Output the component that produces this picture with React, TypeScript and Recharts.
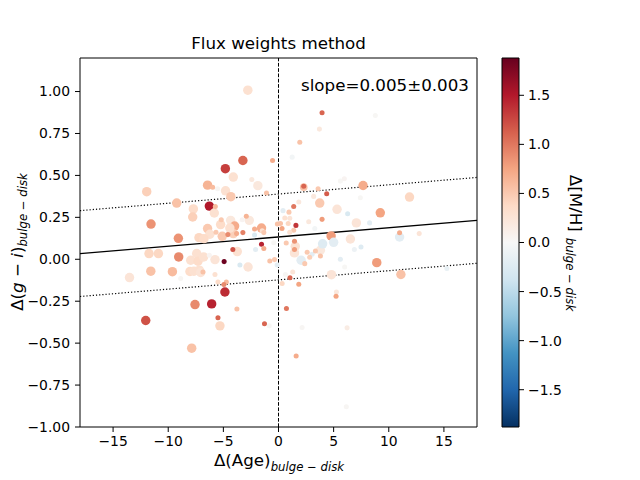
import {
  ComposedChart,
  ReferenceArea,
  ReferenceLine,
  Scatter,
  ScatterChart,
  XAxis,
  YAxis,
  ZAxis,
} from "recharts";

// Δ(Age) bulge − disk
const ageDiff = [
  -2.78, -0.54, -3.23, -4.82, -4.1, -2.42, -1.87, -1.09, -6.43, -5.97,
  -5.52, -4.8, -4.32, -11.95, -9.23, -6.27, -5.73, -7.72, -5.82, -7.78,
  -11.56, -5.19, -4.34, -3.98, -5.25, -2.92, -2.65, -3.29, -1.54, -1.48,
  -2.17, -2.17, -3.23, -6.43, -9.08, -6.22, -5.67, -5.1, -4.1, -4.59,
  -3.8, -1.33, -4.14, -3.74, -1.54, -1.33, -2.08, -11.74, -10.89, -9.05,
  -7.96, -7.42, -7.3, -5.76, -6.27, -4.93, -3.5, -2.76, -0.79, -0.12,
  -11.58, -9.62, -8.03, -7.18, -6.85, -13.51, -8.87, -5.76, -5.49, -4.73,
  -4.95, -4.86, -6.06, -7.57, -12.04, -3.77, -5.49, -5.31, -7.87, -1.27,
  -0.84, -0.43, -6.79, -7.67, -7.06, -4.41, -7.21, -6.76, -0.1,
  3.95, 8.78, 3.71, 1.93, 1.24, 5.61, 5.97, 7.67, 2.29, 2.29,
  3.59, 4.37, 3.19, 7.42, 3.74, 5.31, 11.88, 9.23, 6.27, 7.06,
  8.26, 1.38, 1.84, 0.41, 0.95, 1.58, 0.57, 1.02, 3.95, 2.74,
  3.29, 0.18, 0.32, 0.88, 1.38, 1.02, 4.77, 6.52, 10.98, 12.76,
  10.98, 0.7, 1.45, 1.45, 1.52, 1.45, 2.6, 3.05, 3.35, 3.8,
  3.8, 4.0, 5.0, 6.88, 7.48, 2.05, 2.38, 5.61, 6.0, 8.91,
  11.1, 15.27, 4.8, 1.04, 0.33, 1.84, -0.36, 0.63, 1.29, 5.25,
  5.22, 0.72, 2.14, 6.22, 1.6, 6.15, 2.83,
];

// Δ(g − i) bulge − disk
const colourDiff = [
  1.008, 0.589, 0.589, 0.54, 0.49, 0.476, 0.439, 0.395, 0.442, 0.429,
  0.421, 0.408, 0.373, 0.403, 0.335, 0.317, 0.314, 0.3, 0.276, 0.252,
  0.21, 0.236, 0.232, 0.198, 0.207, 0.256, 0.232, 0.236, 0.186, 0.17,
  0.18, 0.145, 0.159, 0.183, 0.125, 0.149, 0.161, 0.137, 0.153, 0.147,
  0.153, 0.159, 0.058, 0.046, 0.089, 0.064, 0.058, 0.034, 0.034, 0.014,
  -0.006, 0.034, -0.012, -0.002, 0.024, -0.014, -0.034, -0.046, -0.01, -0.034,
  -0.071, -0.074, -0.073, -0.065, -0.076, -0.109, -0.115, -0.091, -0.135, -0.135,
  -0.151, -0.195, -0.266, -0.27, -0.365, -0.296, -0.349, -0.397, -0.53, -0.385,
  -0.397, 0.099, 0.014, -0.071, -0.079, 0.186, 0.129, 0.123, 0.21,
  0.873, 0.857, 0.776, 0.698, 0.609, 0.466, 0.48, 0.44, 0.435, 0.43,
  0.421, 0.391, 0.375, 0.367, 0.335, 0.298, 0.371, 0.277, 0.272, 0.217,
  0.217, 0.315, 0.341, 0.29, 0.281, 0.202, 0.246, 0.244, 0.238, 0.224,
  0.183, 0.213, 0.183, 0.213, 0.173, 0.161, 0.139, 0.121, 0.158, 0.153,
  0.133, 0.097, 0.107, 0.058, 0.077, 0.038, 0.042, 0.03, 0.049, 0.054,
  0.02, 0.092, 0.101, 0.058, 0.073, -0.006, -0.026, 0.0, -0.046, -0.02,
  -0.091, -0.055, -0.092, -0.11, -0.145, -0.149, -0.002, -0.091, -0.076, -0.195,
  -0.22, -0.293, -0.407, -0.409, -0.577, -0.879, 0.012,
];

// Δ[M/H] bulge − disk (colour)
const metalDiff = [
  0.3, 0.7, 1.1, 1.3, 0.3, 0.2, 0.2, 0.55, 0.65, 0.6,
  0.03, 0.3, 0.5, 0.45, 0.55, 1.5, 0.6, 0.35, 0.3, 0.45,
  0.85, 0.5, 0.2, 0.7, 0.35, 0.65, 0.2, 0.05, 0.7, 0.3,
  0.7, -0.3, 0.95, 0.5, 0.85, 0.3, 0.5, 0.5, 0.45, 0.9,
  0.7, 0.5, 1.2, 0.3, 1.45, 0.7, -0.2, 0.4, 0.4, 0.9,
  0.3, 0.3, 0.35, 0.25, 0.05, 1.85, -0.3, 0.25, 0.55, -0.2,
  0.55, 0.6, 0.35, 0.3, 0.55, 0.25, 0.03, 0.3, 0.35, 0.6,
  0.9, 1.4, 1.45, 0.9, 1.2, 0.55, 1.1, 0.4, 0.55, 1.1,
  0.02, 0.02, 0.3, 0.3, 0.25, 0.3, 0.4, 0.35, 0.55,
  1.1, 0.02, 0.2, 0.55, -0.05, 0.02, 0.05, 0.7, 1.1, 0.55,
  0.5, 1.15, 0.2, 0.02, 0.5, 0.25, 0.4, 0.75, -0.3, 0.25,
  -0.2, 1.0, 0.2, -0.2, 0.5, 1.35, 0.3, 0.25, 0.8, 0.2,
  -0.05, 0.55, 0.75, 0.4, 0.5, 0.3, 0.8, 0.25, 0.7, 0.25,
  -0.2, 0.5, 0.85, 0.8, 0.3, 0.25, 0.5, -0.2, 0.5, 0.2,
  0.55, -0.25, -0.2, -0.1, -0.25, -0.2, 0.5, -0.2, 0.02, 0.8,
  0.55, -0.15, 0.25, 1.1, 0.4, 0.75, 0.5, 0.03, 0.25, 0.2,
  0.75, 1.0, 0.03, 0.15, 0.7, 0.03, 0.45,
];

// flux weight of each galaxy (marker size)
const fluxWeight = [
  3, 1, 3, 3, 3, 1, 3, 1, 3, 1,
  1, 3, 3, 3, 3, 3, 1, 3, 3, 3,
  3, 1, 3, 3, 3, 1, 3, 1, 3, 1,
  1, 1, 1, 3, 3, 3, 1, 3, 3, 1,
  1, 1, 1, 3, 1, 1, 1, 3, 3, 3,
  3, 3, 3, 3, 1, 1, 1, 3, 1, 1,
  3, 3, 3, 3, 1, 3, 1, 1, 1, 1,
  1, 3, 3, 3, 3, 1, 1, 3, 3, 1,
  1, 1, 3, 3, 3, 3, 3, 3, 1,
  1, 1, 1, 1, 1, 1, 1, 3, 1, 2,
  1, 1, 1, 1, 3, 3, 3, 3, 1, 3,
  1, 1, 1, 1, 1, 1, 1, 1, 1, 1,
  1, 1, 1, 1, 1, 1, 3, 3, 1, 1,
  3, 1, 1, 1, 3, 3, 1, 1, 1, 3,
  1, 3, 3, 1, 1, 3, 1, 1, 1, 3,
  3, 1, 3, 1, 1, 1, 1, 1, 1, 1,
  1, 1, 1, 1, 1, 1, 1,
];

// linear fit and its scatter band, at the x-limits
const fitAges = [-18, 18];
const fitLine = [0.034, 0.232];
const fitUpper = [0.29, 0.488];
const fitLower = [-0.222, -0.024];

const xTicks = [-15, -10, -5, 0, 5, 10, 15];
const yTicks = [-1, -0.75, -0.5, -0.25, 0, 0.25, 0.5, 0.75, 1];
const cbarTicks = [-1.5, -1, -0.5, 0, 0.5, 1, 1.5];
const metalRange = [-1.88, 1.88];

const RDBU_R = [
  "#053061", "#2166ac", "#4393c3", "#92c5de", "#d1e5f0", "#f7f7f7",
  "#fddbc7", "#f4a582", "#d6604d", "#b2182b", "#67001f",
];

const FONT = "'DejaVu Sans', sans-serif";

function hexRgb(h: string) {
  return [1, 3, 5].map((i) => parseInt(h.slice(i, i + 2), 16));
}

function metalColour(v: number) {
  const [lo, hi] = metalRange;
  const t = Math.min(1, Math.max(0, (v - lo) / (hi - lo))) * 10;
  const i = Math.min(9, Math.floor(t));
  const f = t - i;
  const a = hexRgb(RDBU_R[i]);
  const b = hexRgb(RDBU_R[i + 1]);
  const c = a.map((av, k) => Math.round(av + (b[k] - av) * f));
  return `rgb(${c[0]},${c[1]},${c[2]})`;
}

const minus = (s: string) => s.replace("-", "\u2212");

const points = ageDiff
  .map((x, i) => ({ x, y: colourDiff[i], c: metalDiff[i], w: fluxWeight[i] }))
  .sort((a, b) => b.w - a.w);

function Dot(p: any) {
  const r = p.size ? Math.sqrt(p.size / Math.PI) : (p.width ?? 6) / 2;
  return <circle cx={p.cx} cy={p.cy} r={r} fill={metalColour(p.payload.c)} />;
}

const tickStyle = { fill: "#000", fontSize: 13.9, fontFamily: FONT };

export default function App() {
  return (
    <div
      style={{
        position: "absolute",
        left: 0,
        top: 0,
        width: 640,
        height: 480,
        background: "#fff",
        fontFamily: FONT,
      }}
    >
      <ScatterChart width={640} height={480} margin={{ top: 58, right: 163, bottom: 23, left: 20 }}>
        <XAxis
          type="number"
          dataKey="x"
          domain={[-18, 18]}
          ticks={xTicks}
          tickFormatter={(v) => minus(String(v))}
          axisLine={false}
          tickLine={{ stroke: "#000" }}
          tickSize={5}
          tickMargin={4}
          tick={tickStyle}
          height={30}
          allowDataOverflow
        />
        <YAxis
          type="number"
          dataKey="y"
          domain={[-1, 1.2]}
          ticks={yTicks}
          tickFormatter={(v) => minus(Number(v).toFixed(2))}
          axisLine={false}
          tickLine={{ stroke: "#000" }}
          tickSize={5}
          tickMargin={5}
          tick={tickStyle}
          width={60}
          allowDataOverflow
        />
        <ZAxis type="number" dataKey="w" domain={[1, 3]} range={[20, 70]} />
        <Scatter data={points} shape={Dot} isAnimationActive={false} />
        <ReferenceLine x={0} stroke="#000" strokeWidth={1} strokeDasharray="3.7 1.6" />
        <ReferenceLine
          segment={[
            { x: fitAges[0], y: fitLine[0] },
            { x: fitAges[1], y: fitLine[1] },
          ]}
          stroke="#000"
          strokeWidth={1.3}
        />
        <ReferenceLine
          segment={[
            { x: fitAges[0], y: fitUpper[0] },
            { x: fitAges[1], y: fitUpper[1] },
          ]}
          stroke="#000"
          strokeWidth={1.2}
          strokeDasharray="1.2 2"
        />
        <ReferenceLine
          segment={[
            { x: fitAges[0], y: fitLower[0] },
            { x: fitAges[1], y: fitLower[1] },
          ]}
          stroke="#000"
          strokeWidth={1.2}
          strokeDasharray="1.2 2"
        />
        <ReferenceArea x1={-18} x2={18} y1={-1} y2={1.2} fill="none" stroke="#000" strokeWidth={1} />
      </ScatterChart>

      <div style={{ position: "absolute", left: 490, top: 0 }}>
        <ComposedChart
          width={150}
          height={480}
          data={[{ x: 0 }, { x: 1 }]}
          margin={{ top: 58, right: 81, bottom: 53, left: 12 }}
        >
          <defs>
            <linearGradient id="cbarGrad" x1="0" y1="1" x2="0" y2="0">
              {RDBU_R.map((col, i) => (
                <stop key={col} offset={`${i * 10}%`} stopColor={col} />
              ))}
            </linearGradient>
          </defs>
          <XAxis type="number" dataKey="x" domain={[0, 1]} hide height={0} />
          <YAxis
            type="number"
            orientation="right"
            domain={metalRange}
            ticks={cbarTicks}
            tickFormatter={(v) => minus(Number(v).toFixed(1))}
            axisLine={false}
            tickLine={{ stroke: "#000" }}
            tickSize={5}
            tickMargin={4}
            tick={tickStyle}
            width={40}
            allowDataOverflow
          />
          <ReferenceArea
            x1={0}
            x2={1}
            y1={metalRange[0]}
            y2={metalRange[1]}
            fill="url(#cbarGrad)"
            fillOpacity={1}
            stroke="#000"
            strokeWidth={1}
          />
        </ComposedChart>
      </div>

      <svg
        width={640}
        height={480}
        style={{ position: "absolute", left: 0, top: 0, pointerEvents: "none" }}
        fontFamily={FONT}
      >
        <text x={278.5} y={49} textAnchor="middle" fontSize={16.7} fill="#000">
          Flux weights method
        </text>
        <text x={301} y={91} fontSize={16.7} fill="#000">
          slope=0.005±0.003
        </text>
        <text x={279} y={466} textAnchor="middle" fontSize={16.7} fill="#000">
          Δ(Age)
          <tspan fontSize={11.7} fontStyle="italic" dy={5}>
            bulge − disk
          </tspan>
        </text>
        <text
          x={242}
          y={0}
          transform="translate(23 484) rotate(-90)"
          textAnchor="middle"
          fontSize={16.7}
          fill="#000"
        >
          Δ(<tspan fontStyle="italic">g</tspan> − <tspan fontStyle="italic">i</tspan>)
          <tspan fontSize={11.7} fontStyle="italic" dy={4}>
            bulge − disk
          </tspan>
        </text>
        <text
          x={0}
          y={0}
          transform="translate(570 243) rotate(90)"
          textAnchor="middle"
          fontSize={16.7}
          fill="#000"
        >
          Δ[M/H]
          <tspan fontSize={11.7} fontStyle="italic" dy={4}>
            {"\u2002bulge − disk"}
          </tspan>
        </text>
      </svg>
    </div>
  );
}
